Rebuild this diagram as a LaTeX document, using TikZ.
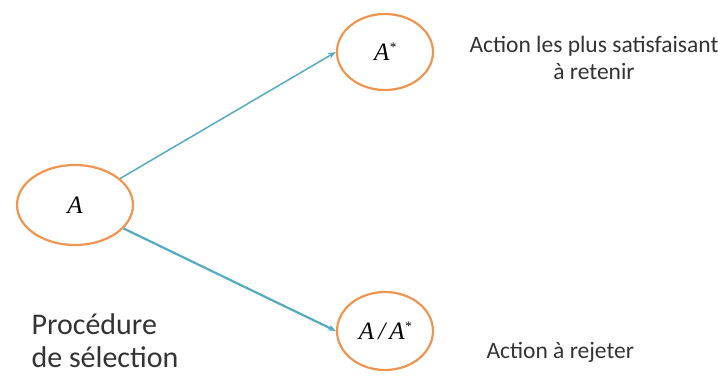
\documentclass[tikz,border=0pt]{standalone}
\usepackage{fontspec}
\setmainfont{Carlito}
\newfontfamily\mathserif{Liberation Serif}
\usetikzlibrary{shapes.geometric,arrows.meta}
\definecolor{ellorange}{RGB}{236,150,82}
\definecolor{arrteal}{RGB}{84,170,192}
\begin{document}
\begin{tikzpicture}[x=1pt,y=-1pt,
  act/.style={ellipse,draw=ellorange,line width=2.2pt,fill=white,inner sep=0pt},
  conn/.style={draw=arrteal,-{Stealth[length=8pt,width=6pt]}},
  lbl/.style={font=\fontsize{23.5}{27}\selectfont,color=black!80,align=center},
  sym/.style={font=\mathserif\itshape\fontsize{25}{28}\selectfont}]
\useasboundingbox (0,0) rectangle (718,383);
\node[act,minimum width=116pt,minimum height=80pt,sym] (a) at (75,205) {A};
\node[act,minimum width=96pt,minimum height=76pt,sym] (as) at (385,52) {A\raisebox{9pt}{\fontsize{13}{13}\selectfont *}};
\node[act,minimum width=96pt,minimum height=78pt,sym] (ar) at (385,331) {A\,/\,A\raisebox{9pt}{\fontsize{13}{13}\selectfont *}};
\draw[conn,line width=1.5pt] (a) -- (as.west);
\draw[conn,line width=2.2pt] (a) -- (ar.west);
\node[lbl] (t1) at (594,58) {Action les plus satisfaisant\\à retenir};
\node[lbl,anchor=west] (t2) at (483,352) {Action à rejeter};
\node[font=\fontsize{30}{33}\selectfont,color=black!80,align=left,anchor=west] (t3) at (28,341) {Procédure\\de sélection};
\end{tikzpicture}
\end{document}
